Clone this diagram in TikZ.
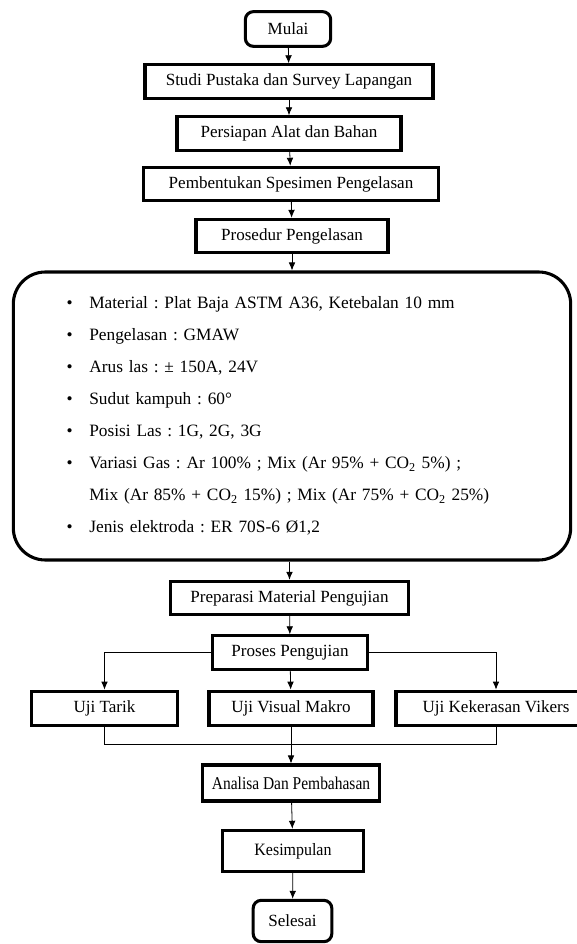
\documentclass[tikz,border=0pt]{standalone}
\usepackage{fontspec}
\setmainfont{Liberation Serif}
\newfontfamily\narrowserif[FakeStretch=0.86]{Liberation Serif}
\newfontfamily\semiserif[FakeStretch=0.92]{Liberation Serif}
\usetikzlibrary{arrows.meta,positioning,calc}
\frenchspacing

\begin{document}
\begin{tikzpicture}[x=0.75pt,y=-0.75pt,
  box/.style={draw,line width=2.3pt,minimum height=25pt,inner sep=2pt,
              font=\fontsize{12.8}{15}\selectfont},
  term/.style={box,rounded corners=6pt},
  arr/.style={-{Latex[length=6pt,width=5pt]},line width=0.6pt},
  ln/.style={line width=0.6pt},
]
\useasboundingbox (0,0) rectangle (577,944);

\node[term,minimum width=64pt,minimum height=26pt] (mulai) at (288,29) {Mulai};
\node[box,minimum width=216pt] (studi) at (289,81.5) {Studi Pustaka dan Survey Lapangan};
\node[box,minimum width=168pt] (alat) at (289,133.5) {Persiapan Alat dan Bahan};
\node[box,minimum width=221pt] (spesimen) at (291,184) {Pembentukan Spesimen Pengelasan};
\node[box,minimum width=144pt] (prosedur) at (292,236) {Prosedur Pengelasan};

\node[draw,line width=2.3pt,rounded corners=24pt,minimum width=418pt,minimum height=216pt,
      text width=338pt,inner xsep=40pt,align=left,
      font=\fontsize{13}{24}\selectfont] (param) at (292,416)
  {\makebox[17pt][l]{\textbullet}Material : Plat Baja ASTM A36, Ketebalan 10 mm\\
   \makebox[17pt][l]{\textbullet}Pengelasan : GMAW\\
   \makebox[17pt][l]{\textbullet}Arus las : ± 150A, 24V\\
   \makebox[17pt][l]{\textbullet}Sudut kampuh : 60°\\
   \makebox[17pt][l]{\textbullet}Posisi Las : 1G, 2G, 3G\\
   \makebox[17pt][l]{\textbullet}Variasi Gas : Ar 100\% ; Mix (Ar 95\% + CO\textsubscript{2} 5\%) ;\\
   \hspace*{17pt}Mix (Ar 85\% + CO\textsubscript{2} 15\%) ; Mix (Ar 75\% + CO\textsubscript{2} 25\%)\\
   \makebox[17pt][l]{\textbullet}Jenis elektroda : ER 70S-6 Ø1,2};

\node[box,minimum width=179pt] (preparasi) at (289.5,598) {Preparasi Material Pengujian};
\node[box,minimum width=116pt] (proses) at (290,652.5) {Proses Pengujian};
\node[box,minimum width=110pt,minimum height=26pt] (tarik) at (104.5,708.5) {Uji Tarik};
\node[box,minimum width=123pt,minimum height=26pt] (visual) at (291,708.5) {Uji Visual Makro};
\node[box,minimum width=150pt,minimum height=26pt] (keras) at (496,708.5) {Uji Kekerasan Vikers};
\node[box,minimum width=133pt,minimum height=27pt,font=\fontsize{13.5}{15}\narrowserif] (analisa) at (291,783) {Analisa Dan Pembahasan};
\node[box,minimum width=106pt,minimum height=31pt,font=\fontsize{13}{15}\semiserif] (simpul) at (293,851) {Kesimpulan};
\node[term,minimum width=59pt,minimum height=31pt] (selesai) at (292.5,921) {Selesai};

\coordinate (gabung) at (visual.south |- 0,744.5);

\draw[arr] (mulai) -- (studi);
\draw[arr] (studi) -- (alat);
\draw[arr] (alat) -- (spesimen);
\draw[arr] (spesimen) -- (prosedur);
\draw[arr] (prosedur) -- (prosedur |- param.north);
\draw[arr] (param.south -| preparasi) -- (preparasi);
\draw[arr] (preparasi) -- (proses);
\draw[arr] (proses.west) -| (tarik.north);
\draw[arr] (proses) -- (visual);
\draw[arr] (proses.east) -| (keras.north);
\draw[ln] (tarik.south) |- (gabung) -| (keras.south);
\draw[arr] (visual) -- (analisa);
\draw[arr] (analisa) -- (simpul);
\draw[arr] (simpul) -- (selesai);
\end{tikzpicture}
\end{document}
